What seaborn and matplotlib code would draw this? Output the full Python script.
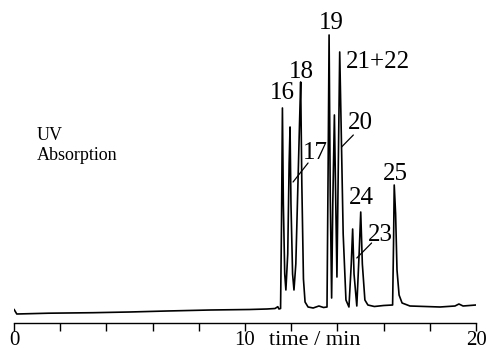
import numpy as np
import pandas as pd
import seaborn as sns
import matplotlib
matplotlib.use("Agg")
import matplotlib.pyplot as plt

# chromatogram trace, vertices (time in min, signal in a.u.)
time_min = [0.00, 0.12, 1.50, 3.42, 5.00, 6.62, 8.50, 10.20, 10.95, 11.30, 11.42, 11.47,
            11.54, 11.58, 11.62, 11.66, 11.72, 11.77,
            11.85, 11.91, 11.95, 11.99, 12.06, 12.12,
            12.20, 12.36, 12.41, 12.46, 12.53, 12.60, 12.73, 12.95, 13.20, 13.40, 13.55,
            13.60, 13.64, 13.69, 13.75,
            13.80, 13.87, 13.93, 13.98,
            14.04, 14.10, 14.16, 14.25, 14.37, 14.50,
            14.60, 14.66, 14.72, 14.84,
            14.94, 15.01, 15.08, 15.19, 15.32, 15.60, 16.00, 16.39,
            16.43, 16.46, 16.52, 16.58, 16.67, 16.80, 17.14, 17.80, 18.44, 19.09, 19.26, 19.44, 20.00]
signal = [4.7, 0.0, 0.8, 1.3, 2.0, 3.0, 4.0, 4.5, 5.0, 5.5, 7.3, 5.0,
          5.5, 90.0, 206.0, 110.0, 40.0, 24.0,
          60.0, 150.0, 187.0, 110.0, 40.0, 24.0,
          50.0, 190.0, 232.0, 130.0, 35.0, 12.0, 7.0, 6.0, 8.0, 6.5, 7.0,
          150.0, 279.0, 120.0, 16.0,
          110.0, 199.0, 110.0, 37.0,
          150.0, 262.0, 190.0, 80.0, 14.0, 7.0,
          50.0, 85.0, 40.0, 8.0,
          60.0, 102.0, 50.0, 14.0, 9.0, 7.5, 8.5, 9.0,
          70.0, 129.0, 100.0, 44.0, 19.0, 11.0, 8.0, 7.5, 7.0, 8.0, 10.0, 8.0, 9.0]

# peak labels: text, label position, optional pointer (from, to)
peak_names = ["16", "17", "18", "19", "20", "21+22", "23", "24", "25"]
label_t = [11.60, 13.03, 12.42, 13.72, 14.98, 15.76, 15.84, 15.02, 16.49]
label_s = [221, 161, 242, 291, 191, 252, 79, 116, 140]
pointer_names = ["17", "20", "23"]
pointer_t0 = [12.73, 14.69, 15.48]
pointer_s0 = [151, 179, 71]
pointer_t1 = [12.08, 14.18, 14.84]
pointer_s1 = [132, 167, 56]

tick_pos = np.arange(0, 21, 2)
tick_text = ["0", "", "", "", "", "10", "", "", "", "", "20"]

trace = pd.DataFrame({"time": time_min, "signal": signal})

sns.set_style("ticks")
plt.rcParams["font.family"] = ["Liberation Serif", "DejaVu Serif"]

fig = plt.figure(figsize=(4.86, 3.5), dpi=100)
ax = fig.add_axes([14 / 486, 26.7 / 350, 462 / 486, 323.3 / 350])

sns.lineplot(data=trace, x="time", y="signal", estimator=None, sort=False,
             color="black", linewidth=1.2, ax=ax)

for name, t, s in zip(peak_names, label_t, label_s):
    ax.text(t, s, name, fontsize=18, ha="center", va="center", color="black")

for t0, s0, t1, s1 in zip(pointer_t0, pointer_s0, pointer_t1, pointer_s1):
    ax.plot([t0, t1], [s0, s1], color="black", linewidth=0.9)

ax.text(1.0, 178, "UV", fontsize=13, ha="left", va="center", color="black")
ax.text(1.0, 158, "Absorption", fontsize=13, ha="left", va="center", color="black")

ax.set_xlim(0, 20)
ax.set_ylim(-9.3, 314)
ax.set_xticks(tick_pos)
ax.set_xticklabels(tick_text, fontsize=15)
for lab in ax.get_xticklabels():
    lab.set_verticalalignment("baseline")
ax.tick_params(axis="x", direction="out", length=6, width=1.0, pad=9.5,
               color="black", labelcolor="black")
ax.set_yticks([])
ax.set_xlabel("")
ax.set_ylabel("")
sns.despine(ax=ax, left=True)
ax.spines["bottom"].set_linewidth(1.0)
ax.spines["bottom"].set_color("black")

ax.text(13.03, -31, "time / min", fontsize=16, ha="center", va="baseline",
        color="black", clip_on=False)

fig.savefig("out.png", dpi=100)
